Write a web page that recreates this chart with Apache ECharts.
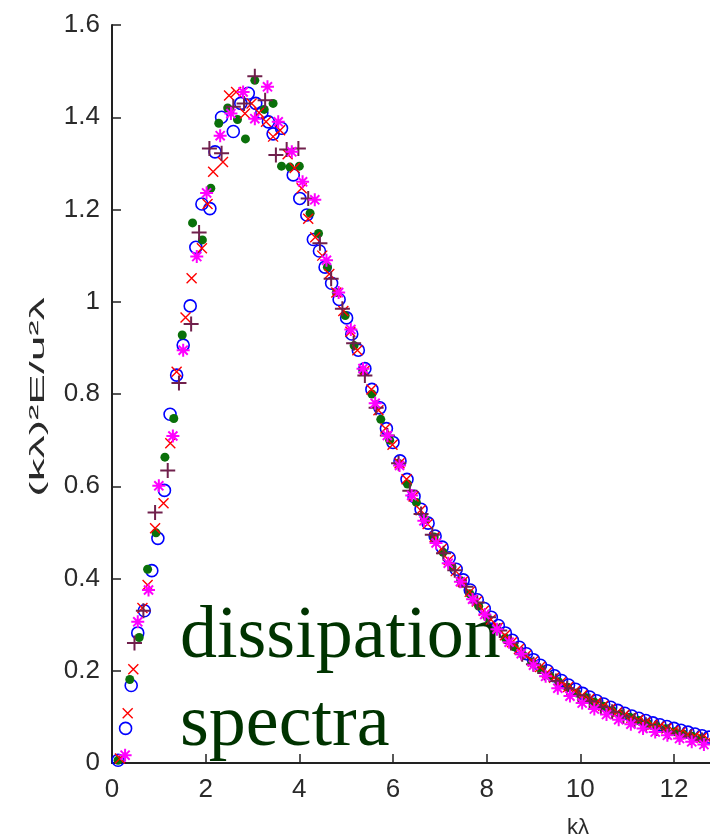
<!DOCTYPE html>
<html>
<head>
<meta charset="utf-8">
<script src="https://cdn.jsdelivr.net/npm/echarts@6/dist/echarts.min.js"></script>
<style>
  html, body { margin: 0; padding: 0; background: #fff; }
  #chart { width: 710px; height: 840px; }
</style>
</head>
<body>
<div id="chart"></div>
<script>
// kλ, (kλ)^2 E / u^2 λ, one list per marker set
const circles = [
  [0.13,0.006],[0.29,0.075],[0.41,0.168],[0.55,0.282],[0.69,0.33],[0.85,0.417],[0.98,0.487],
  [1.12,0.591],[1.24,0.756],[1.38,0.841],[1.52,0.906],[1.67,0.991],[1.79,1.118],[1.92,1.212],
  [2.09,1.202],[2.20,1.325],[2.34,1.40],[2.59,1.369],[2.75,1.43],[2.91,1.452],[3.07,1.43],
  [3.20,1.41],[3.34,1.39],[3.44,1.364],[3.62,1.376],[3.87,1.275],[4.01,1.224],[4.16,1.188],
  [4.30,1.135],[4.43,1.11],[4.55,1.075],[4.69,1.04],[4.85,1.005],[5.01,0.965],[5.12,0.93],
  [5.26,0.895],[5.40,0.855],[5.55,0.81],[5.72,0.77],[5.86,0.725],[6.0,0.695],[6.15,0.655],
  [6.3,0.615],[6.45,0.578],[6.6,0.55],[6.75,0.52],[6.9,0.492],[7.05,0.468],[7.2,0.445],
  [7.35,0.42],[7.5,0.397],[7.65,0.375],[7.8,0.354],[7.95,0.335],[8.1,0.316],[8.25,0.298],
  [8.4,0.282],[8.55,0.266],[8.7,0.251],[8.85,0.237],[9.0,0.224],[9.15,0.212],[9.3,0.2],
  [9.45,0.189],[9.6,0.179],[9.75,0.169],[9.9,0.16],[10.05,0.151],[10.2,0.143],[10.35,0.135],
  [10.5,0.128],[10.65,0.121],[10.8,0.114],[10.95,0.108],[11.1,0.102],[11.25,0.097],[11.4,0.092],
  [11.55,0.087],[11.7,0.083],[11.85,0.079],[12.0,0.075],[12.15,0.071],[12.3,0.067],[12.45,0.063],
  [12.6,0.059],[12.75,0.056]
]
const dots = [
  [0.13,0.006],[0.38,0.181],[0.58,0.272],[0.76,0.42],[0.94,0.499],[1.13,0.663],[1.32,0.747],
  [1.50,0.928],[1.72,1.171],[1.93,1.134],[2.11,1.246],[2.28,1.387],[2.47,1.42],[2.68,1.395],
  [2.85,1.353],[3.05,1.48],[3.25,1.417],[3.44,1.43],[3.62,1.294],[3.80,1.292],[4.0,1.294],
  [4.23,1.192],[4.41,1.148],[4.6,1.075],[4.79,1.02],[4.98,0.97],[5.17,0.905],[5.36,0.85],
  [5.55,0.8],[5.74,0.745],[5.93,0.7],[6.12,0.65],[6.31,0.605],[6.5,0.565],[6.69,0.528],
  [6.88,0.49],[7.07,0.457],[7.26,0.425],[7.45,0.395],[7.64,0.367],[7.83,0.34],[8.02,0.315],
  [8.21,0.292],[8.4,0.271],[8.59,0.252],[8.78,0.234],[8.97,0.218],[9.16,0.203],[9.35,0.189],
  [9.54,0.176],[9.73,0.164],[9.92,0.152],[10.11,0.142],[10.3,0.132],[10.49,0.123],[10.68,0.114],
  [10.87,0.106],[11.06,0.099],[11.25,0.092],[11.44,0.086],[11.63,0.08],[11.82,0.074],[12.01,0.068],
  [12.2,0.063],[12.39,0.058],[12.58,0.053]
]
const crosses = [
  [0.17,0.01],[0.335,0.108],[0.455,0.203],[0.65,0.336],[0.76,0.386],[0.92,0.509],[1.10,0.563],
  [1.245,0.693],[1.38,0.848],[1.57,0.966],[1.70,1.051],[1.92,1.116],[2.04,1.212],[2.16,1.282],
  [2.37,1.303],[2.50,1.447],[2.65,1.455],[2.84,1.408],[2.98,1.43],[3.14,1.41],[3.29,1.39],
  [3.44,1.358],[3.59,1.372],[3.75,1.32],[3.90,1.29],[4.05,1.246],[4.19,1.18],[4.34,1.14],
  [4.49,1.10],[4.64,1.06],[4.79,1.02],[4.94,0.98],[5.09,0.935],[5.24,0.895],[5.39,0.85],
  [5.54,0.81],[5.69,0.765],[5.84,0.725],[5.99,0.69],[6.14,0.65],[6.29,0.615],[6.44,0.578],
  [6.59,0.548],[6.74,0.518],[6.89,0.49],[7.04,0.464],[7.19,0.44],[7.34,0.416],[7.49,0.393],
  [7.64,0.371],[7.79,0.35],[7.94,0.33],[8.09,0.311],[8.24,0.293],[8.39,0.277],[8.54,0.262],
  [8.69,0.247],[8.84,0.233],[8.99,0.22],[9.14,0.208],[9.29,0.196],[9.44,0.185],[9.59,0.175],
  [9.74,0.165],[9.89,0.156],[10.04,0.147],[10.19,0.139],[10.34,0.131],[10.49,0.124],[10.64,0.117],
  [10.79,0.11],[10.94,0.104],[11.09,0.098],[11.24,0.093],[11.39,0.088],[11.54,0.083],[11.69,0.079],
  [11.84,0.075],[11.99,0.07],[12.14,0.066],[12.29,0.062],[12.44,0.058],[12.59,0.054],[12.74,0.05]
]
const pluses = [
  [0.48,0.26],[0.67,0.33],[0.92,0.543],[1.19,0.634],[1.43,0.824],[1.69,0.952],[1.86,1.15],
  [2.08,1.332],[2.34,1.322],[2.59,1.423],[2.82,1.43],[3.05,1.489],[3.27,1.437],[3.50,1.318],
  [3.73,1.33],[3.98,1.332],[4.19,1.224],[4.44,1.127],[4.68,1.05],[4.92,0.985],[5.16,0.91],
  [5.4,0.84],[5.64,0.77],[5.88,0.71],[6.12,0.65],[6.36,0.59],[6.6,0.54],[6.84,0.495],
  [7.08,0.455],[7.32,0.418],[7.56,0.382],[7.8,0.348],[8.04,0.316],[8.28,0.287],[8.52,0.26],
  [8.76,0.236],[9.0,0.214],[9.24,0.195],[9.48,0.178],[9.72,0.162],[9.96,0.147],[10.2,0.134],
  [10.44,0.122],[10.68,0.111],[10.92,0.101],[11.16,0.092],[11.4,0.083],[11.64,0.075],[11.88,0.068],
  [12.12,0.062],[12.36,0.056],[12.6,0.05]
]
const stars = [
  [0.28,0.017],[0.55,0.306],[0.78,0.375],[1.00,0.601],[1.30,0.709],[1.52,0.895],[1.81,1.098],
  [2.02,1.236],[2.31,1.36],[2.54,1.408],[2.80,1.455],[3.05,1.397],[3.32,1.466],[3.55,1.39],
  [3.84,1.325],[4.07,1.26],[4.33,1.221],[4.58,1.09],[4.84,1.02],[5.1,0.94],[5.36,0.855],
  [5.62,0.78],[5.88,0.71],[6.14,0.645],[6.4,0.58],[6.66,0.525],[6.92,0.477],[7.18,0.433],
  [7.44,0.393],[7.7,0.355],[7.96,0.322],[8.22,0.29],[8.48,0.262],[8.74,0.237],[9.0,0.212],
  [9.26,0.188],[9.52,0.162],[9.78,0.145],[10.04,0.13],[10.3,0.117],[10.56,0.105],[10.82,0.094],
  [11.08,0.084],[11.34,0.075],[11.6,0.067],[11.86,0.06],[12.12,0.053],[12.38,0.046],[12.64,0.04]
]

const xTicks = [0, 2, 4, 6, 8, 10, 12]
const yTicks = ['0', '0.2', '0.4', '0.6', '0.8', '1', '1.2', '1.4', '1.6']

const chart = echarts.init(document.getElementById('chart'), null, { renderer: 'canvas' })

const axisCol = '#222'
const tickFont = { fontFamily: 'Liberation Sans', fontSize: 26, color: '#2a2a2a' }

// stroke-only marker shapes (matlab style)
const X_PATH = 'path://M0,0L10,10M0,10L10,0'
const PLUS_PATH = 'path://M5,0L5,10M0,5L10,5'
const STAR_PATH = 'path://M5,0L5,10M0,5L10,5M1.5,1.5L8.5,8.5M1.5,8.5L8.5,1.5'

chart.setOption({
  animation: false,
  grid: { left: 112, top: 25, right: 0, bottom: 77 },
  xAxis: {
    type: 'value', min: 0, max: 12.77, interval: 2,
    axisLine: { lineStyle: { color: axisCol, width: 2 } },
    axisTick: { inside: true, length: 9, lineStyle: { color: axisCol, width: 1.5 } },
    axisLabel: { ...tickFont, margin: 14, showMaxLabel: false,
      formatter: v => xTicks.includes(v) ? String(v) : '' },
    splitLine: { show: false }
  },
  yAxis: {
    type: 'value', min: 0, max: 1.6, interval: 0.2,
    axisLine: { lineStyle: { color: axisCol, width: 2 } },
    axisTick: { inside: true, length: 9, lineStyle: { color: axisCol, width: 1.5 } },
    axisLabel: { ...tickFont, margin: 12,
      formatter: (v, i) => yTicks[i] },
    splitLine: { show: false }
  },
  series: [
    { type: 'scatter', data: circles, symbol: 'circle', symbolSize: 12,
      itemStyle: { color: 'rgba(0,0,0,0)', borderColor: '#0000ff', borderWidth: 1.6, opacity: 1 } },
    { type: 'scatter', data: dots, symbol: 'circle', symbolSize: 9,
      itemStyle: { color: '#0a700a', opacity: 1 } },
    { type: 'scatter', data: crosses, symbol: X_PATH, symbolSize: 10,
      itemStyle: { color: 'rgba(0,0,0,0)', borderColor: '#ff0000', borderWidth: 1.4, opacity: 1 } },
    { type: 'scatter', data: pluses, symbol: PLUS_PATH, symbolSize: 15,
      itemStyle: { color: 'rgba(0,0,0,0)', borderColor: '#70204c', borderWidth: 2, opacity: 1 } },
    { type: 'scatter', data: stars, symbol: STAR_PATH, symbolSize: 13,
      itemStyle: { color: 'rgba(0,0,0,0)', borderColor: '#ff00ff', borderWidth: 2, opacity: 1 } }
  ],
  graphic: [
    { type: 'text', x: 38, y: 397, rotation: Math.PI / 2, scaleX: 2.3,
      style: { text: '(kλ)²E/u²λ', fontFamily: 'Liberation Sans', fontSize: 20,
        fill: '#2a2a2a', textAlign: 'center', textVerticalAlign: 'middle' } },
    { type: 'text', x: 578, y: 828,
      style: { text: 'kλ', fontFamily: 'Liberation Sans', fontSize: 22,
        fill: '#2a2a2a', textAlign: 'center', textVerticalAlign: 'middle' } },
    { type: 'text', x: 180, y: 638,
      style: { text: 'dissipation', fontFamily: 'Liberation Serif', fontSize: 74,
        fill: '#003300', textAlign: 'left', textVerticalAlign: 'middle' } },
    { type: 'text', x: 180, y: 726,
      style: { text: 'spectra', fontFamily: 'Liberation Serif', fontSize: 74,
        fill: '#003300', textAlign: 'left', textVerticalAlign: 'middle' } }
  ]
})
</script>
</body>
</html>
